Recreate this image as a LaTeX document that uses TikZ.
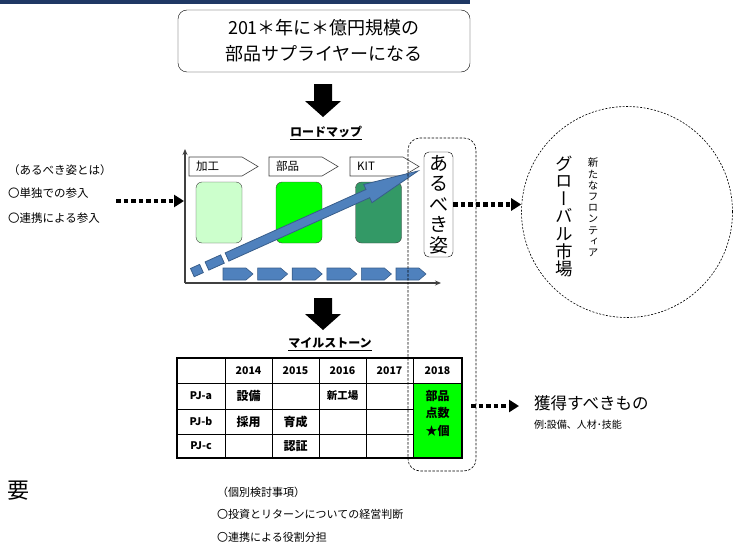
\documentclass[tikz,border=0pt]{standalone}
\usepackage{fontspec}
\setmainfont{Noto Sans CJK JP}
\newfontfamily\jpv[RawFeature=+vert]{Noto Sans CJK JP}
\usetikzlibrary{calc,arrows.meta}
\definecolor{navy}{HTML}{1F3864}
\definecolor{lgreen}{HTML}{CCFFCC}
\definecolor{bgreen}{HTML}{00FF00}
\definecolor{dgreen}{HTML}{339966}
\definecolor{pblue}{HTML}{4F81BD}
\definecolor{pblueedge}{HTML}{385D8A}
\definecolor{edge}{HTML}{404040}
\begin{document}
\begin{tikzpicture}[x=1pt,y=-1pt,
  txt/.style={inner sep=0pt},
  dotarrow/.style={line width=4.5pt, dash pattern=on 4.5pt off 3pt, -{Triangle[length=10pt,width=12pt]}},
  downarrow/.style={fill=black},
  stagebox/.style={draw=edge, rounded corners=6pt, minimum width=46pt, minimum height=61pt, inner sep=0pt},
  chev/.style={fill=pblue, draw=pblueedge, line width=0.6pt},
  tag/.style={draw=edge, fill=white, line width=0.6pt},
  cell/.style={inner sep=0pt, font=\bfseries\fontsize{10.5}{12}\selectfont},
  cellj/.style={inner sep=0pt, font=\bfseries\fontsize{12}{14}\selectfont},
  axis/.style={draw=edge, line width=1.2pt, -{Stealth[length=6pt,width=5pt]}}
]
\useasboundingbox (0,0) rectangle (741,543);
% top bar
\fill[navy] (0,0) rectangle (470,4);

% goal box
\node[draw, rounded corners=9pt, minimum width=292pt, minimum height=62pt, align=center,
  inner sep=0pt, font=\fontsize{18}{26}\selectfont] (goal) at (324,41) {201＊年に＊億円規模の\\部品サプライヤーになる};

% down arrow 1
\fill[downarrow] (314,84) -- (332,84) -- (332,101) -- (341,101) -- (323,117) -- (305,101) -- (314,101) -- cycle;
\node[txt, font=\bfseries\fontsize{12}{12}\selectfont] (rmtitle) at (326,133) {\underline{ロードマップ}};

% left texts
\node[txt, anchor=west, font=\fontsize{11.5}{12}\selectfont] (lt1) at (8,170) {（あるべき姿とは）};
\node[txt, anchor=west, font=\fontsize{11.5}{12}\selectfont] (lt2) at (8,193) {〇単独での参入};
\node[txt, anchor=west, font=\fontsize{11.5}{12}\selectfont] (lt3) at (8,218) {〇連携による参入};

% axes
\coordinate (O) at (185,283);
\coordinate (ytop) at (185,149);
\coordinate (xend) at (441,283);
\draw[axis] (O) -- (ytop);
\draw[axis] (O) -- (xend);

% left dotted arrow
\coordinate (lstart) at (116,201);
\coordinate (lend) at (184,201);
\draw[dotarrow] (lstart) -- (lend);

% tags
\foreach \x/\t [count=\i] in {189/加工, 269/部品, 350/KIT} {
  \draw[tag] (\x,157) -- ++(53,0) -- ++(16,9.5) -- ++(-16,9.5) -- ++(-53,0) -- cycle;
  \node[txt, anchor=west, font=\fontsize{11.5}{12}\selectfont] (tag\i) at (\x+7,166.5) {\t};
}

% stage boxes
\node[stagebox, fill=lgreen] (s1) at (219,212.5) {};
\node[stagebox, fill=bgreen] (s2) at (299,212.5) {};
\node[stagebox, fill=dgreen] (s3) at (378.5,212.5) {};

% chevrons
\foreach \i in {0,...,5} {
  \draw[chev] ({223+34.6*\i},268) -- ++(23,0) -- ++(7,6) -- ++(-7,6) -- ++(-23,0) -- cycle;
}

% big blue arrow
\coordinate (S) at (227,257);
\coordinate (T) at (418,171);
\coordinate (B) at ($(T)!55pt!(S)$);
\filldraw[fill=pblue, draw=pblueedge, line width=0.8pt]
  ($(S)!4.5pt!90:(T)$) -- ($(B)!4.5pt!90:(T)$) -- ($(B)!10pt!90:(T)$) -- (T)
  -- ($(B)!10pt!-90:(T)$) -- ($(B)!4.5pt!-90:(T)$) -- ($(S)!4.5pt!-90:(T)$) -- cycle;
\foreach \a/\b in {5/22, 28/38} {
  \coordinate (p1) at ($(S)!-\a pt!(T)$);
  \coordinate (p2) at ($(S)!-\b pt!(T)$);
  \filldraw[fill=pblue, draw=pblueedge, line width=0.8pt]
    ($(p1)!4.5pt!90:(T)$) -- ($(p2)!4.5pt!90:(T)$) -- ($(p2)!4.5pt!-90:(T)$) -- ($(p1)!4.5pt!-90:(T)$) -- cycle;
}

% あるべき姿
\node[draw, rounded corners=5pt, fill=white, minimum width=29pt, minimum height=105pt, inner sep=0pt,
  align=center, font=\fontsize{19}{20.5}\selectfont] (aru) at (438.5,204.5) {あ\\る\\べ\\き\\姿};

% global market circle
\node[circle, draw, dash pattern=on 2pt off 1.5pt, line width=0.6pt, minimum size=211pt, inner sep=0pt] (glob) at (627,212) {};
\node[txt, align=center, font=\jpv\fontsize{17.5}{17.6}\selectfont] (gm) at (564,216.5) {グ\\ロ\\ー\\バ\\ル\\市\\場};
\node[txt, align=center, font=\jpv\fontsize{10.5}{11.2}\selectfont] (nf) at (593,207.5) {新\\た\\な\\フ\\ロ\\ン\\テ\\ィ\\ア};

\draw[dotarrow] (aru.east) -- (aru.east -| glob.west);

% down arrow 2
\fill[downarrow] (314,298) -- (332,298) -- (332,314) -- (341,314) -- (323,330) -- (305,314) -- (314,314) -- cycle;
\node[txt, font=\bfseries\fontsize{12}{12}\selectfont] (mstitle) at (330,344) {\underline{マイルストーン}};

% table
\fill[bgreen] (413,383) rectangle (462,458);
\draw[line width=0.8pt] (177,383) -- (462,383);
\draw[line width=0.8pt] (177,409) -- (413,409);
\draw[line width=0.8pt] (177,434) -- (413,434);
\foreach \x in {225,272,319,366,413} { \draw[line width=0.8pt] (\x,358) -- (\x,458); }
\draw[line width=2pt] (177,358) rectangle (462,458);

\node[cell] (h1) at (248.5,370.5) {2014};
\node[cell] (h2) at (295.5,370.5) {2015};
\node[cell] (h3) at (342.5,370.5) {2016};
\node[cell] (h4) at (389.5,370.5) {2017};
\node[cell] (h5) at (437.5,370.5) {2018};
\node[cell] (ra) at (201,396) {PJ-a};
\node[cell] (rb) at (201,421.5) {PJ-b};
\node[cell] (rc) at (201,446) {PJ-c};
\node[cellj] (c1) at (248.5,396) {設備};
\node[cell] (c2) at (342.5,396) {新工場};
\node[cellj] (c3) at (248.5,421.5) {採用};
\node[cellj] (c4) at (295.5,421.5) {育成};
\node[cellj] (c5) at (295.5,446) {認証};
\node[cellj, align=center, font=\bfseries\fontsize{12}{17.5}\selectfont] (c6) at (437.5,413) {部品\\点数\\★個};

% dashed frame
\draw[line width=0.6pt, dash pattern=on 2.5pt off 1.5pt, rounded corners=12pt] (408,138) rectangle (476,471);

% acquisition
\node[txt, anchor=west, font=\fontsize{16.5}{18}\selectfont] (kak) at (534,403) {獲得すべきもの};
\node[txt, anchor=west, font=\fontsize{10}{12}\selectfont] (rei) at (534,425) {例:設備、人材･技能};
\coordinate (tstart) at (471,406);
\coordinate (tend) at (519,406);
\draw[dotarrow] (tstart) -- (tend);

% bottom
\node[txt, font=\fontsize{22}{24}\selectfont] (yo) at (19,491) {要};
\node[txt, anchor=west, font=\fontsize{11}{12}\selectfont] (b1) at (217,492) {（個別検討事項）};
\node[txt, anchor=west, font=\fontsize{11}{12}\selectfont] (b2) at (217,514) {〇投資とリターンについての経営判断};
\node[txt, anchor=west, font=\fontsize{11}{12}\selectfont] (b3) at (217,537) {〇連携による役割分担};
\end{tikzpicture}
\end{document}
